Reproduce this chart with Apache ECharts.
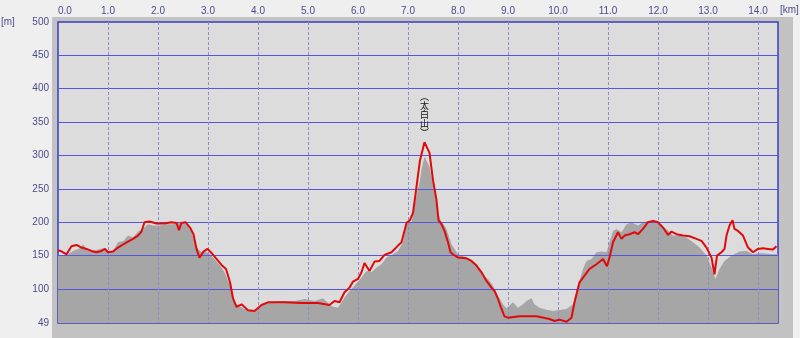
<!DOCTYPE html>
<html><head><meta charset="utf-8">
<script src="https://cdn.jsdelivr.net/npm/echarts@6/dist/echarts.min.js"></script>
<style>html,body{margin:0;padding:0;background:#efefef;}#c{width:800px;height:338px;}</style>
</head><body><div id="c"></div>
<script>
// Track (GPS) elevation profile: distance [km], elevation [m]
var trackKm = [0.0,0.05,0.17,0.27,0.37,0.47,0.57,0.67,0.77,0.87,0.94,1.0,1.1,1.2,1.31,1.4,1.5,1.6,1.67,1.73,1.83,1.97,2.13,2.27,2.37,2.42,2.47,2.55,2.64,2.71,2.77,2.83,2.91,2.99,3.07,3.17,3.27,3.36,3.44,3.5,3.57,3.67,3.8,3.93,4.07,4.2,4.53,4.87,5.2,5.43,5.53,5.63,5.73,5.83,5.9,6.0,6.07,6.13,6.23,6.33,6.43,6.53,6.67,6.8,6.87,6.97,7.04,7.1,7.17,7.24,7.33,7.43,7.5,7.57,7.61,7.67,7.73,7.8,7.85,7.9,8.0,8.17,8.27,8.37,8.47,8.57,8.67,8.73,8.8,8.87,8.93,9.0,9.23,9.57,9.83,9.93,10.03,10.17,10.27,10.33,10.43,10.53,10.63,10.77,10.9,10.98,11.03,11.1,11.2,11.27,11.33,11.43,11.53,11.6,11.7,11.8,11.9,12.0,12.1,12.2,12.27,12.37,12.5,12.63,12.77,12.87,12.97,13.07,13.13,13.18,13.27,13.33,13.37,13.43,13.49,13.53,13.6,13.7,13.8,13.9,14.0,14.1,14.2,14.3,14.37];
var trackM = [158,157,152,164,166,162,160,157,155,157,160,155,156,162,167,171,175,180,186,200,201,198,198,200,199,188,199,200,192,182,160,147,156,160,154,145,136,130,110,86,73,77,68,67,76,80,80,79,79,76,82,80,95,102,111,115,125,139,127,141,142,151,155,165,170,199,203,214,253,293,320,304,263,233,203,197,187,170,155,152,147,146,142,135,125,112,102,97,85,70,59,57,59,59,55,52,54,51,57,80,110,120,130,137,145,134,147,170,185,175,180,182,185,182,190,200,202,200,192,181,186,182,180,179,175,172,162,147,122,150,155,160,180,195,203,190,187,180,162,155,160,161,160,159,164];
// Terrain (map) elevation profile
var terrainKm = [0.0,0.17,0.3,0.44,0.5,0.57,0.7,0.84,0.9,1.0,1.1,1.2,1.31,1.4,1.5,1.6,1.71,1.8,1.9,2.03,2.17,2.3,2.44,2.57,2.67,2.77,2.87,3.0,3.1,3.24,3.33,3.44,3.54,3.73,3.93,4.07,4.2,4.4,4.73,4.93,5.13,5.3,5.47,5.6,5.73,5.83,5.93,6.07,6.17,6.27,6.37,6.47,6.57,6.7,6.8,6.9,6.97,7.07,7.17,7.24,7.27,7.33,7.43,7.53,7.6,7.65,7.7,7.77,7.87,7.93,8.0,8.17,8.37,8.5,8.6,8.7,8.8,8.9,8.97,9.1,9.2,9.3,9.37,9.47,9.53,9.63,9.77,9.9,10.17,10.3,10.4,10.5,10.57,10.67,10.77,10.87,10.97,11.03,11.1,11.17,11.27,11.37,11.47,11.6,11.7,11.8,11.97,12.07,12.17,12.3,12.43,12.57,12.7,12.83,12.97,13.07,13.15,13.23,13.33,13.47,13.63,13.77,13.9,14.03,14.3,14.4];
var terrainM = [150,151,157,161,167,160,157,160,161,156,157,170,172,180,177,186,191,197,195,195,197,197,200,197,185,162,155,155,147,135,125,105,78,70,66,75,79,82,82,85,82,86,74,72,87,97,105,117,127,125,132,137,147,152,157,170,197,200,240,263,279,298,283,244,215,203,198,190,167,160,152,147,137,120,115,105,90,77,71,80,72,77,82,86,77,72,69,67,70,77,105,130,142,145,155,156,155,170,187,190,185,197,200,195,200,202,201,195,190,180,180,177,170,162,150,132,115,130,142,150,156,157,152,154,152,152];
var xTicks = [0,1,2,3,4,5,6,7,8,9,10,11,12,13,14];
var yTicks = [49,100,150,200,250,300,350,400,450,500];
var peakLabel = '︵\n太\n白\n山\n︶';
var peakKm = 7.33, peakM = 320;

function zip(a, b) { return a.map(function (v, i) { return [v, b[i]]; }); }

var chart = echarts.init(document.getElementById('c'), null, {renderer: 'canvas'});
var lblColor = '#4a4a8c';
var hBlue = '#5656e4', vBlue = '#8c8cc8';
var plotTop = 22, plotH = 301, yMin = 49, yMax = 500, xMax = 14.4;
// helper grid whose y-range is 0..yMax, aligned with main grid, used only for crisp horizontal grid lines
var helperH = plotH * yMax / (yMax - yMin);
var hColors = [];
for (var v = 0; v <= yMax; v += 50) hColors.push(v >= 100 && v <= 450 ? hBlue : 'rgba(0,0,0,0)');
var vColors = xTicks.map(function (t) { return t === 0 ? 'rgba(0,0,0,0)' : vBlue; }).concat(['rgba(0,0,0,0)']);

chart.setOption({
  backgroundColor: '#efefef',
  animation: false,
  graphic: [
    {type: 'rect', z: -10, shape: {x: 52, y: 17, width: 741, height: 321}, style: {fill: '#c2c2c2'}},
    {type: 'text', left: 1, top: 17, style: {text: '[m]', fill: lblColor, font: '10px "Liberation Sans"'}},
    {type: 'text', left: 780, top: 5, style: {text: '[km]', fill: lblColor, font: '10px "Liberation Sans"'}}
  ],
  grid: [
    {left: 58, top: plotTop, width: 720, height: plotH, show: true, backgroundColor: '#dcdcdc', borderColor: '#3a3ac0', borderWidth: 1.5, z: 0, outerBoundsMode: 'none', containLabel: false},
    {left: 58, top: plotTop, width: 720, height: helperH, show: false, outerBoundsMode: 'none', containLabel: false}
  ],
  xAxis: [{
    type: 'value', position: 'top', min: 0, max: xMax, interval: 1, z: 3,
    axisLine: {show: false}, axisTick: {show: false},
    splitLine: {show: true, lineStyle: {color: vColors, width: 1, type: [3, 2]}},
    axisLabel: {
      color: lblColor, fontSize: 10, fontFamily: 'Liberation Sans', margin: 6,
      alignMinLabel: 'left',
      formatter: function (v) { return v > 14.05 ? '' : v.toFixed(1); }
    }
  }, {
    type: 'value', gridIndex: 1, min: 0, max: xMax, show: false
  }],
  yAxis: [{
    type: 'value', min: yMin, max: yMax,
    axisLine: {show: false}, axisTick: {show: false}, splitLine: {show: false},
    axisLabel: {color: lblColor, fontSize: 10, fontFamily: 'Liberation Sans', margin: 9, customValues: yTicks}
  }, {
    type: 'value', gridIndex: 1, min: 0, max: yMax, interval: 50, z: 3,
    axisLine: {show: false}, axisTick: {show: false}, axisLabel: {show: false},
    splitLine: {show: true, lineStyle: {color: hColors, width: 1, type: 'solid'}}
  }],
  series: [
    {
      type: 'line', data: zip(terrainKm, terrainM), symbol: 'none', z: 2,
      lineStyle: {width: 0}, itemStyle: {color: '#a6a6a6'},
      areaStyle: {color: '#a6a6a6', opacity: 1, origin: 'start'}
    },
    {
      type: 'line', data: zip(trackKm, trackM), symbol: 'none', z: 5,
      lineStyle: {color: '#e00a0a', width: 2}, itemStyle: {color: '#e00a0a'},
      markPoint: {
        symbol: 'circle', symbolSize: 0,
        data: [{coord: [peakKm, peakM]}],
        label: {show: true, position: 'top', distance: 5, formatter: peakLabel,
          color: '#111', fontSize: 9, lineHeight: 9, fontFamily: 'Noto Sans CJK JP'}
      }
    }
  ]
});
</script></body></html>
